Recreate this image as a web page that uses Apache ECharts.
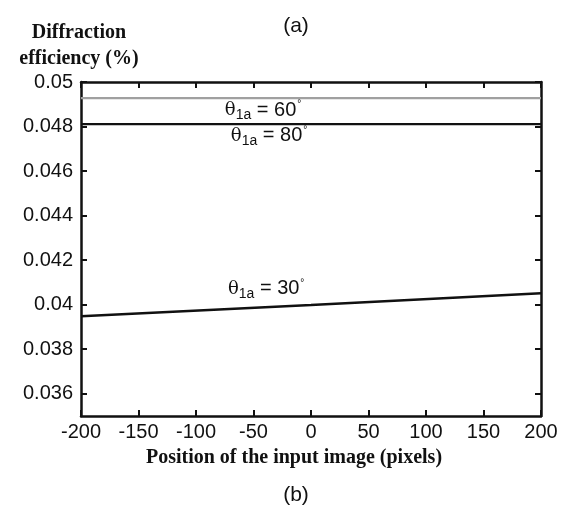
<!DOCTYPE html>
<html>
<head>
<meta charset="utf-8">
<script src="https://cdn.jsdelivr.net/npm/echarts@6/dist/echarts.min.js"></script>
<style>
  html, body { margin: 0; padding: 0; background: #fff; }
  #chart { width: 563px; height: 506px; }
</style>
</head>
<body>
<div id="chart"></div>
<script>
// Input image position (pixels)
const positions = [-200, 0, 200];
// Diffraction efficiency (%) for each reference angle
const eff60 = [0.04928, 0.04928, 0.04928];
const eff80 = [0.04811, 0.04811, 0.04811];
const eff30 = [0.03948, 0.03999, 0.04051];
// Y tick positions and their labels
const yTicks = [0.036, 0.038, 0.04, 0.042, 0.044, 0.046, 0.048, 0.05];
const yTickLabels = ['0.036', '0.038', '0.04', '0.042', '0.044', '0.046', '0.048', '0.05'];
// Curve annotations: [x, y, angle]
const notes = [[-41.7, 0.04874, 60], [-36.5, 0.04758, 80], [-39, 0.04071, 30]];

const sans = 'Liberation Sans, Arial, sans-serif';
const tickFont = { fontFamily: sans, fontSize: 20, color: '#111' };
const serifBold = { fontFamily: 'Liberation Serif, Times New Roman, serif', fontWeight: 'bold', fontSize: 20, color: '#111' };

function pairs(ys) { return positions.map((x, i) => [x, ys[i]]); }

const rich = {
  t: { fontFamily: 'DejaVu Serif, serif', fontSize: 18, color: '#111' },
  s: { fontFamily: sans, fontSize: 14, color: '#111', padding: [10, 0, 0, 0] },
  m: { fontFamily: sans, fontSize: 20, color: '#111' },
  d: { fontFamily: sans, fontSize: 10, color: '#111', padding: [0, 0, 12, 1] }
};
function angleLabel(deg) { return '{t|θ}{s|1a}{m| = ' + deg + '}{d|°}'; }
function note(n) {
  return {
    coord: [n[0], n[1]], symbol: 'rect', symbolSize: 1,
    itemStyle: { color: 'rgba(0,0,0,0)' },
    label: { show: true, formatter: angleLabel(n[2]), rich: rich, position: 'inside' }
  };
}

const chart = echarts.init(document.getElementById('chart'), null, { renderer: 'canvas' });
const axisLine = { show: true, onZero: false, lineStyle: { color: '#111', width: 2.5 } };
const axisTick = { show: true, inside: true, length: 6, lineStyle: { color: '#111', width: 2 } };

chart.setOption({
  animation: false,
  backgroundColor: '#fff',
  title: [
    { text: '(a)', left: 291, top: 11, textAlign: 'center', textStyle: { fontFamily: sans, fontSize: 21, fontWeight: 'normal', color: '#111' } },
    { text: '(b)', left: 291, top: 480, textAlign: 'center', textStyle: { fontFamily: sans, fontSize: 21, fontWeight: 'normal', color: '#111' } },
    { text: 'Diffraction\nefficiency (%)', left: 74, top: 15, textAlign: 'center', textStyle: Object.assign({ lineHeight: 26 }, serifBold) }
  ],
  grid: { left: 81, right: 22, top: 82, bottom: 90 },
  xAxis: [
    {
      type: 'value', min: -200, max: 200, interval: 50,
      name: 'Position of the input image (pixels)', nameLocation: 'middle', nameGap: 32,
      nameTextStyle: Object.assign({ padding: [0, 34, 0, 0] }, serifBold),
      axisLine: axisLine, axisTick: axisTick, splitLine: { show: false },
      axisLabel: Object.assign({ margin: 6 }, tickFont)
    },
    {
      type: 'value', position: 'top', min: -200, max: 200, interval: 50,
      axisLine: axisLine, axisTick: axisTick, splitLine: { show: false }, axisLabel: { show: false }
    }
  ],
  yAxis: [
    {
      type: 'value', min: 0.035, max: 0.05,
      axisLine: axisLine,
      axisTick: Object.assign({ customValues: yTicks }, axisTick),
      splitLine: { show: false },
      axisLabel: Object.assign({
        margin: 8,
        customValues: yTicks,
        formatter: v => { const i = yTicks.findIndex(t => Math.abs(t - v) < 1e-9); return i >= 0 ? yTickLabels[i] : ''; }
      }, tickFont)
    },
    {
      type: 'value', position: 'right', min: 0.035, max: 0.05,
      axisLine: axisLine,
      axisTick: Object.assign({ customValues: yTicks }, axisTick),
      splitLine: { show: false }, axisLabel: { show: false }
    }
  ],
  series: [
    {
      name: '60', type: 'line', data: pairs(eff60), showSymbol: false,
      lineStyle: { color: '#a0a0a0', width: 2.2 },
      markPoint: { data: [note(notes[0])] }
    },
    {
      name: '80', type: 'line', data: pairs(eff80), showSymbol: false,
      lineStyle: { color: '#111', width: 2.2 },
      markPoint: { data: [note(notes[1])] }
    },
    {
      name: '30', type: 'line', data: pairs(eff30), showSymbol: false,
      lineStyle: { color: '#111', width: 2.5 },
      markPoint: { data: [note(notes[2])] }
    }
  ]
});
</script>
</body>
</html>
